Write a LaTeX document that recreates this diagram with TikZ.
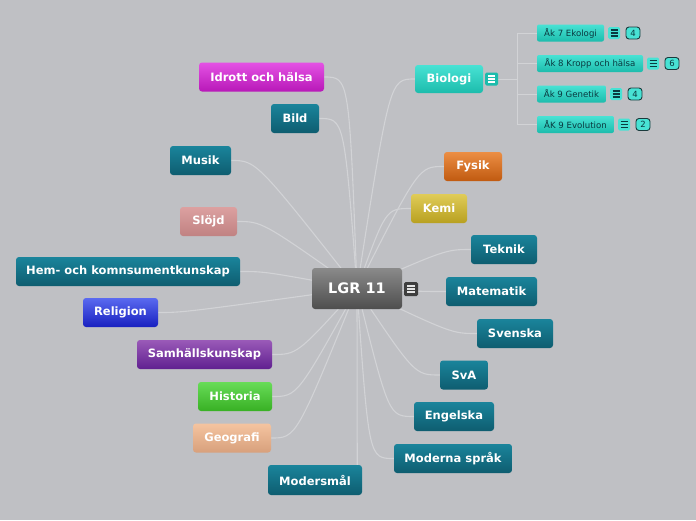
\documentclass[tikz,border=0pt]{standalone}
\usepackage{fontspec}
\setmainfont{DejaVu Sans}
\usetikzlibrary{calc,backgrounds}
\definecolor{bgc}{RGB}{191,192,196}
\definecolor{linec}{RGB}{210,211,214}
\definecolor{teal1}{HTML}{1A849B}
\definecolor{teal2}{HTML}{0E5D70}
\definecolor{mag1}{HTML}{E452E4}
\definecolor{mag2}{HTML}{B818B8}
\definecolor{pink1}{HTML}{DCA0A0}
\definecolor{pink2}{HTML}{C08282}
\definecolor{blue1}{HTML}{5A6AF0}
\definecolor{blue2}{HTML}{1820C0}
\definecolor{pur1}{HTML}{9A5AB8}
\definecolor{pur2}{HTML}{602090}
\definecolor{grn1}{HTML}{68DC58}
\definecolor{grn2}{HTML}{38B024}
\definecolor{peach1}{HTML}{F4C4A0}
\definecolor{peach2}{HTML}{D8A07C}
\definecolor{ora1}{HTML}{EC8E44}
\definecolor{ora2}{HTML}{C05A10}
\definecolor{yel1}{HTML}{E0CC58}
\definecolor{yel2}{HTML}{B8A020}
\definecolor{gray1}{HTML}{8A8A8A}
\definecolor{gray2}{HTML}{4E4E4E}
\definecolor{tq1}{HTML}{48E2D4}
\definecolor{tq2}{HTML}{1CBCAC}
\definecolor{subtext}{HTML}{0A3A40}
\definecolor{badgeb}{HTML}{1A3A3C}
\begin{document}
\begin{tikzpicture}[x=1pt,y=-1pt,
  shd/.style 2 args={top color=#1, bottom color=#2},
  topic/.style={rounded corners=3pt, inner sep=0pt, minimum height=29pt,
    text=white, font=\bfseries\fontsize{11.5}{13}\selectfont},
  conn/.style={draw=linec, line width=1.1pt},
  subconn/.style={draw=linec, line width=0.8pt},
  sub/.style={rounded corners=2pt, inner sep=0pt, minimum height=17pt,
    text=subtext, font=\fontsize{8.6}{10}\selectfont, shd={tq1}{tq2}},
  ico/.style 2 args={minimum size=#1, inner sep=0pt, rounded corners=1.5pt, fill=#2},
  badge/.style={draw=badgeb, line width=0.9pt, fill=tq1, rounded corners=3pt,
    minimum width=14pt, minimum height=12pt, inner sep=0pt,
    font=\fontsize{8.5}{9}\selectfont, text=subtext}
]
\useasboundingbox (0,0) rectangle (696,520);

% central node
\node[topic, shd={gray1}{gray2}, minimum width=90pt, minimum height=41pt,
  font=\bfseries\fontsize{14.5}{16}\selectfont] (lgr) at (357,288.5) {LGR 11};
\node[ico={14pt}{gray2!80!black}] (lgrico) at (411,289) {};
\foreach \d in {-3,0,3}
  \draw[white!80!gray, line width=1.1pt] ($(lgrico.center)+(-4,\d)$) -- ++(8,0);

% left topics
\node[topic, shd={mag1}{mag2}, minimum width=125pt] (idrott) at (261.5,77) {Idrott och hälsa};
\node[topic, shd={teal1}{teal2}, minimum width=48pt] (bild) at (295,118.5) {Bild};
\node[topic, shd={teal1}{teal2}, minimum width=61pt] (musik) at (200.5,160.5) {Musik};
\node[topic, shd={pink1}{pink2}, minimum width=57pt] (slojd) at (208.5,221.5) {Slöjd};
\node[topic, shd={teal1}{teal2}, minimum width=224pt] (hem) at (128,271.5) {Hem- och komnsumentkunskap};
\node[topic, shd={blue1}{blue2}, minimum width=75pt] (religion) at (120.5,312.5) {Religion};
\node[topic, shd={pur1}{pur2}, minimum width=135pt] (samh) at (204.5,354.5) {Samhällskunskap};
\node[topic, shd={grn1}{grn2}, minimum width=74pt] (historia) at (235,396.5) {Historia};
\node[topic, shd={peach1}{peach2}, minimum width=78pt] (geografi) at (232,438) {Geografi};
\node[topic, shd={teal1}{teal2}, minimum width=94pt, minimum height=30pt] (modersmal) at (315,480) {Modersmål};

% right topics
\node[topic, shd={tq1}{tq2}, minimum width=68pt, minimum height=28pt] (biologi) at (449,79) {Biologi};
\node[ico={13pt}{tq2}] (bioico) at (491.5,79) {};
\foreach \d in {-3,0,3}
  \draw[white, line width=1.1pt] ($(bioico.center)+(-3.5,\d)$) -- ++(7,0);
\node[topic, shd={ora1}{ora2}, minimum width=58pt] (fysik) at (473,166.5) {Fysik};
\node[topic, shd={yel1}{yel2}, minimum width=56pt] (kemi) at (439,208.5) {Kemi};
\node[topic, shd={teal1}{teal2}, minimum width=66pt] (teknik) at (504,249.5) {Teknik};
\node[topic, shd={teal1}{teal2}, minimum width=91pt] (matematik) at (491.5,291.5) {Matematik};
\node[topic, shd={teal1}{teal2}, minimum width=76pt] (svenska) at (515,333.5) {Svenska};
\node[topic, shd={teal1}{teal2}, minimum width=48pt] (sva) at (464,375) {SvA};
\node[topic, shd={teal1}{teal2}, minimum width=80pt] (engelska) at (454,416.5) {Engelska};
\node[topic, shd={teal1}{teal2}, minimum width=118pt] (moderna) at (453,458.5) {Moderna språk};

% biology subtopics
\node[sub, minimum width=67pt] (s1) at (570.5,33) {Åk 7 Ekologi};
\node[sub, minimum width=106pt] (s2) at (590,63.5) {Åk 8 Kropp och hälsa};
\node[sub, minimum width=69pt] (s3) at (571.5,94) {Åk 9 Genetik};
\node[sub, minimum width=77pt] (s4) at (575.5,124.5) {ÅK 9 Evolution};
\node[ico={12pt}{tq1}] (s1ico) at (614,33) {};
\node[ico={12pt}{tq1}] (s2ico) at (653,63.5) {};
\node[ico={12pt}{tq1}] (s3ico) at (616,94) {};
\node[ico={12pt}{tq1}] (s4ico) at (624,124.5) {};
\foreach \n in {s1ico,s2ico,s3ico,s4ico}
  \foreach \d in {-3,0,3}
    \draw[subtext, line width=1.1pt] ($(\n.center)+(-3.5,\d)$) -- ++(7,0);
\node[badge] (b1) at (633,33) {4};
\node[badge] (b2) at (672,63.5) {6};
\node[badge] (b3) at (635,94) {4};
\node[badge] (b4) at (643,124.5) {2};

\coordinate (modtop) at ($(modersmal.north east)+(-5,0)$);
\coordinate (bj) at (517,79);

\begin{scope}[on background layer]
  \fill[bgc] (0,0) rectangle (696,520);
  \foreach \n in {idrott,bild,musik,slojd,hem,religion,samh,historia,geografi}
    \draw[conn] (lgr.center) .. controls ($(\n.east)+(25,0)$) .. (\n.east);
  \foreach \n in {biologi,fysik,kemi,teknik,matematik,svenska,sva,engelska,moderna}
    \draw[conn] (lgr.center) .. controls ($(\n.west)+(-25,0)$) .. (\n.west);
  \draw[conn] (lgr.center) .. controls ($(modtop)+(0,-30)$) .. (modtop);
  \draw[subconn] (bioico.east) -- (bj);
  \foreach \n in {s1,s2,s3,s4}
    \draw[subconn] (bj) |- (\n.west);
\end{scope}
\end{tikzpicture}
\end{document}
